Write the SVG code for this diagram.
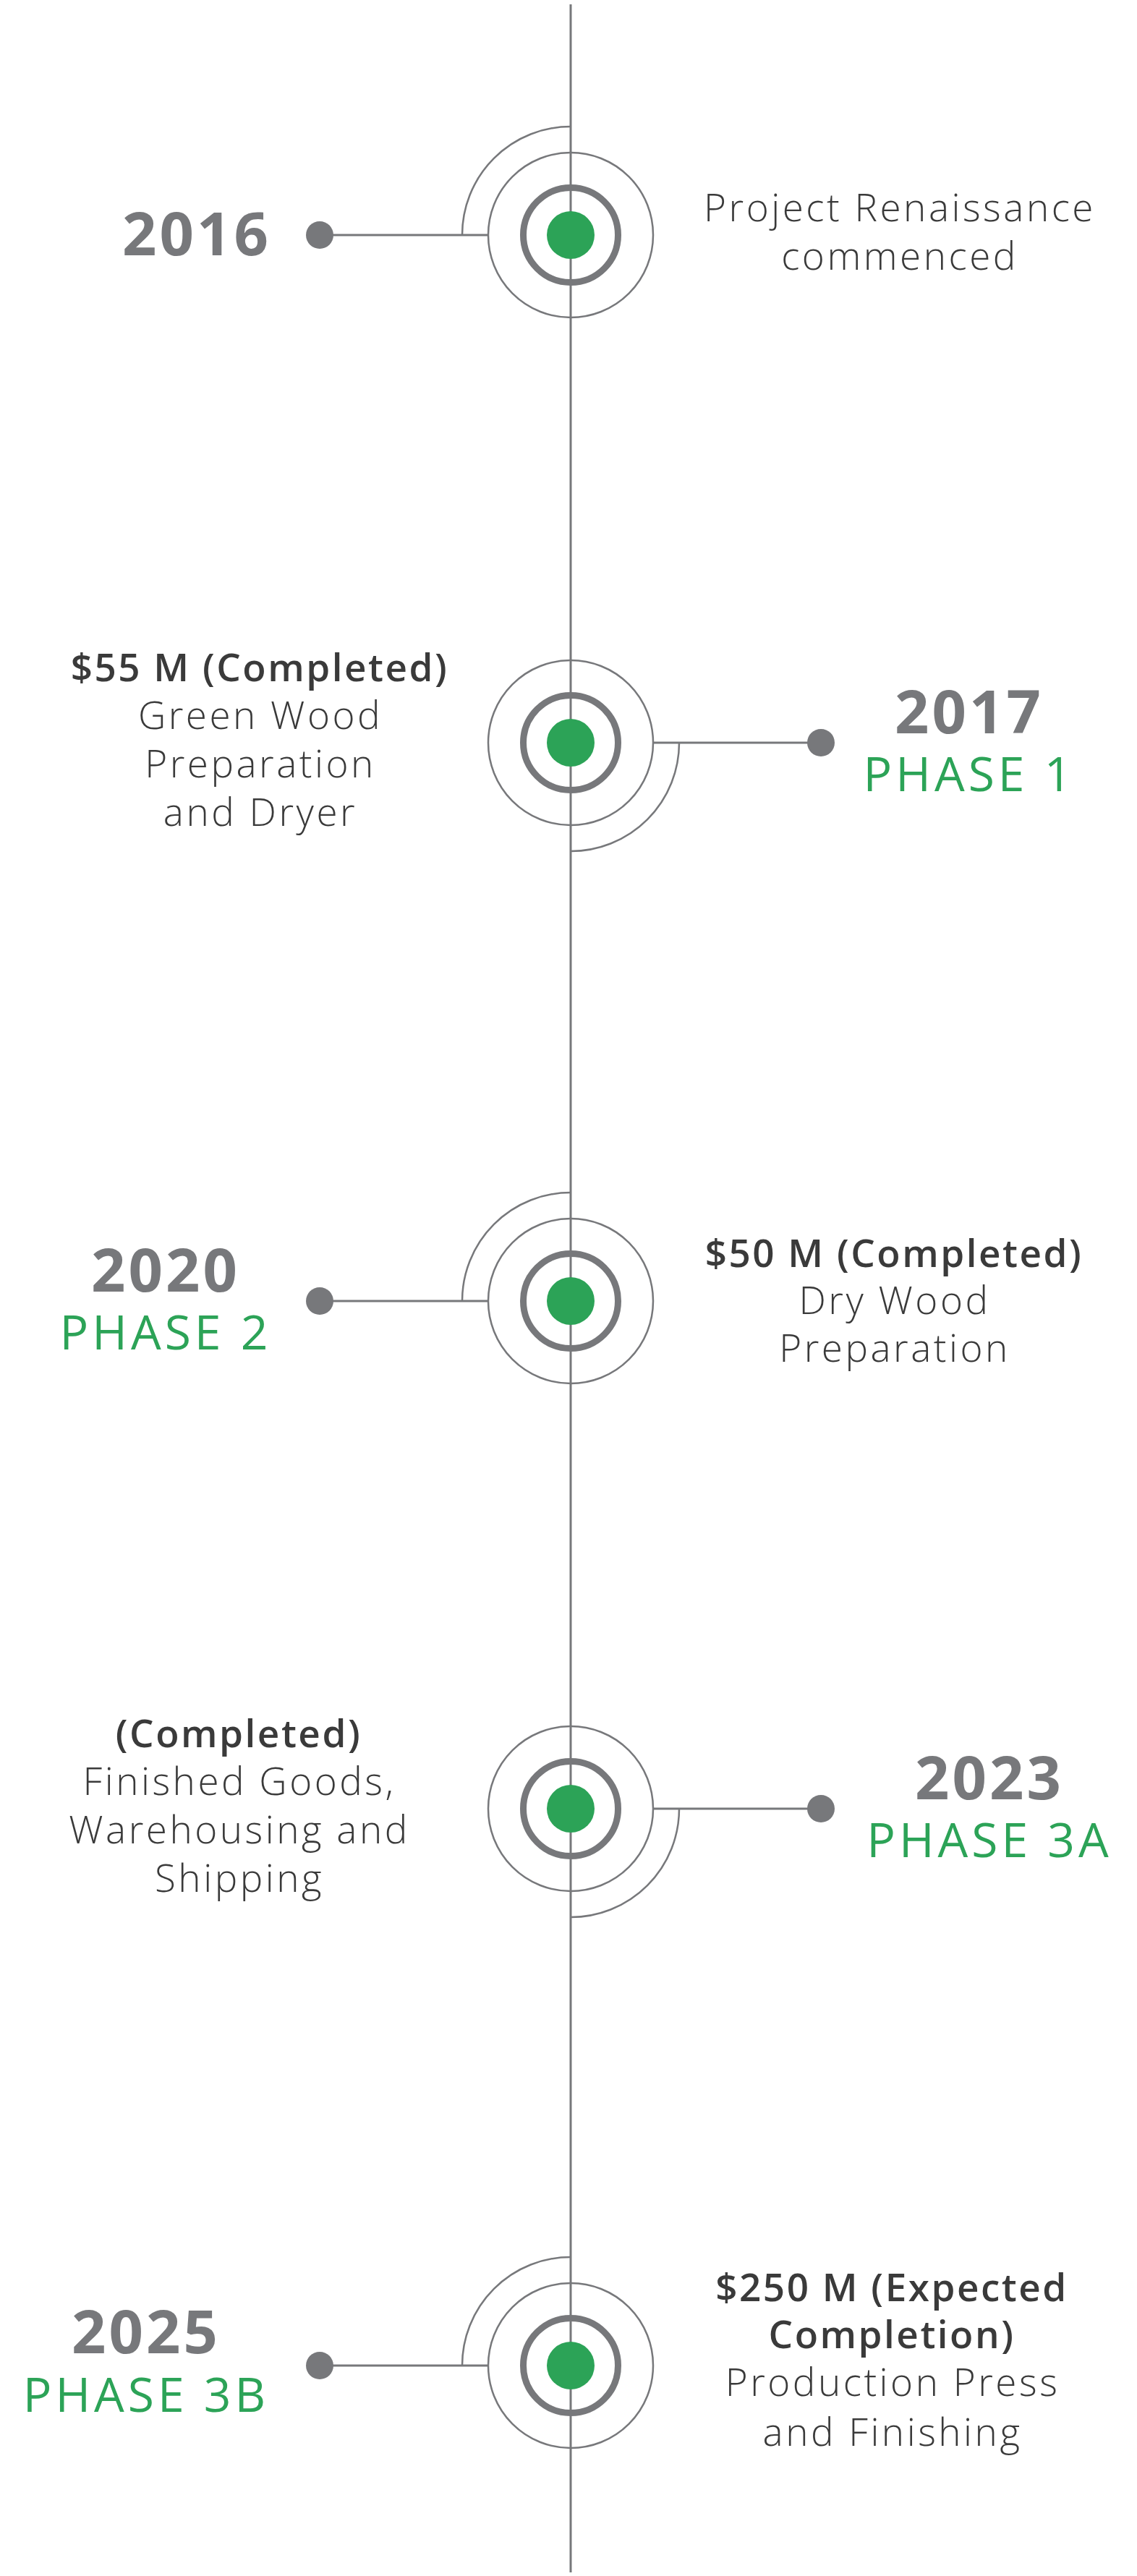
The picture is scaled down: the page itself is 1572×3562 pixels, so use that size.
<svg xmlns="http://www.w3.org/2000/svg" width="1572" height="3562" viewBox="0 0 1572 3562">
<style>
.ln{stroke:#77787b;fill:none;stroke-width:3}
.thin{stroke:#77787b;fill:none;stroke-width:2.5}
.ring{stroke:#77787b;fill:none;stroke-width:9}
.core{fill:#2ca357}
.dot{fill:#77787b}
text{font-family:"Open Sans","Liberation Sans",sans-serif;text-anchor:middle}
.yr{font-size:83px;font-weight:700;fill:#77787b;letter-spacing:4px}
.ph{font-size:66px;font-weight:500;fill:#2ca357;letter-spacing:5px}
.bd{font-size:53px;font-weight:300;fill:#3a3a3a;letter-spacing:3.5px}
.bb{font-size:53px;font-weight:600;fill:#3a3a3a;letter-spacing:2.5px}
</style>
<defs>
<g id="target">
<circle r="114" class="thin" fill="none"/>
<circle r="65.5" class="ring"/>
<circle r="33" class="core"/>
</g>
</defs>
<g id="connectors">
<line x1="789" y1="6" x2="789" y2="3557" class="ln"/>
<path d="M789 175 A150 150 0 0 0 639 325" class="thin"/>
<line x1="442" y1="325" x2="675" y2="325" class="ln"/>
<path d="M939 1027 A150 150 0 0 1 789 1177" class="thin"/>
<line x1="903" y1="1027" x2="1135" y2="1027" class="ln"/>
<path d="M789 1649 A150 150 0 0 0 639 1799" class="thin"/>
<line x1="442" y1="1799" x2="675" y2="1799" class="ln"/>
<path d="M939 2501 A150 150 0 0 1 789 2651" class="thin"/>
<line x1="903" y1="2501" x2="1135" y2="2501" class="ln"/>
<path d="M789 3121 A150 150 0 0 0 639 3271" class="thin"/>
<line x1="442" y1="3271" x2="675" y2="3271" class="ln"/>
</g>
<g id="node-2016">
<use href="#target" x="789" y="325"/>
<circle cx="442" cy="325" r="19" class="dot"/>
<text x="272" y="353" class="yr">2016</text>
<text x="1244" y="306" class="bd">Project Renaissance</text>
<text x="1244" y="373" class="bd">commenced</text>
</g>
<g id="node-2017">
<use href="#target" x="789" y="1027"/>
<circle cx="1135" cy="1027" r="19" class="dot"/>
<text x="1340" y="1014" class="yr">2017</text>
<text x="1340" y="1094" class="ph">PHASE 1</text>
<text x="359" y="942" class="bb">$55 M (Completed)</text>
<text x="360" y="1008" class="bd">Green Wood</text>
<text x="360" y="1075" class="bd">Preparation</text>
<text x="360" y="1142" class="bd">and Dryer</text>
</g>
<g id="node-2020">
<use href="#target" x="789" y="1799"/>
<circle cx="442" cy="1799" r="19" class="dot"/>
<text x="229" y="1786" class="yr">2020</text>
<text x="229" y="1866" class="ph">PHASE 2</text>
<text x="1236" y="1752" class="bb">$50 M (Completed)</text>
<text x="1237" y="1817" class="bd">Dry Wood</text>
<text x="1237" y="1883" class="bd">Preparation</text>
</g>
<g id="node-2023">
<use href="#target" x="789" y="2501"/>
<circle cx="1135" cy="2501" r="19" class="dot"/>
<text x="1368" y="2488" class="yr">2023</text>
<text x="1368" y="2568" class="ph">PHASE 3A</text>
<text x="330" y="2416" class="bb">(Completed)</text>
<text x="331" y="2482" class="bd">Finished Goods,</text>
<text x="331" y="2549" class="bd">Warehousing and</text>
<text x="331" y="2616" class="bd">Shipping</text>
</g>
<g id="node-2025">
<use href="#target" x="789" y="3271"/>
<circle cx="442" cy="3271" r="19" class="dot"/>
<text x="202" y="3254" class="yr">2025</text>
<text x="202" y="3335" class="ph">PHASE 3B</text>
<text x="1233" y="3182" class="bb">$250 M (Expected</text>
<text x="1233" y="3247" class="bb">Completion)</text>
<text x="1234" y="3313" class="bd">Production Press</text>
<text x="1234" y="3382" class="bd">and Finishing</text>
</g>
</svg>
